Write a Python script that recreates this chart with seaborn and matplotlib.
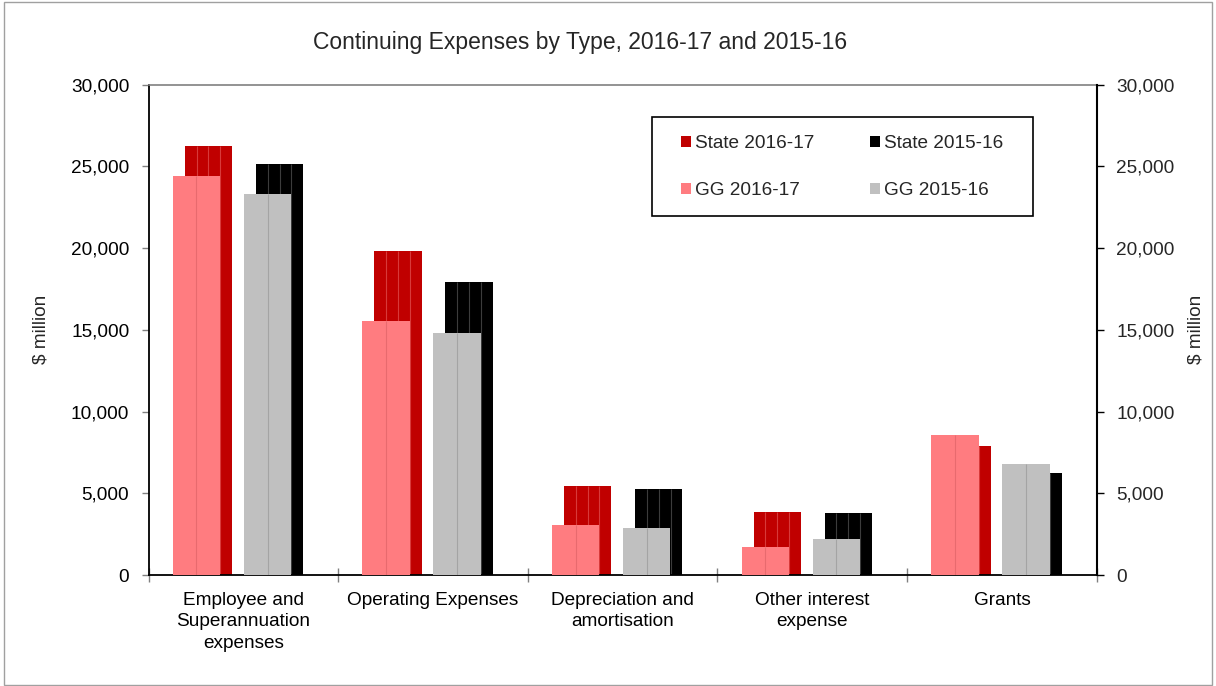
import numpy as np
import pandas as pd
import matplotlib
matplotlib.use('Agg')
import matplotlib.pyplot as plt
import seaborn as sns
from matplotlib.patches import Patch, Rectangle
from matplotlib.ticker import FuncFormatter, FixedLocator

categories = ['Employee and\nSuperannuation\nexpenses', 'Operating Expenses',
              'Depreciation and\namortisation', 'Other interest\nexpense', 'Grants']
state_1617 = [26250, 19800, 5450, 3860, 7880]
gg_1617 = [24430, 15570, 3060, 1710, 8550]
state_1516 = [25120, 17920, 5270, 3800, 6230]
gg_1516 = [23330, 14780, 2880, 2200, 6820]

sns.set_theme(style='white')
plt.rcParams['font.family'] = ['Liberation Sans', 'DejaVu Sans']
fs = 13.7

fig = plt.figure(figsize=(12.16, 6.86), dpi=100)
ax = fig.add_axes([148.7/1216, 1 - 575/686, 948/1216, (575 - 84.7)/686])

# (values, colour, offset, line colour, zorder) - state behind, GG in front
series = [
    ('State 2016-17', state_1617, '#C00000', -0.185, '#d83a3a', 2),
    ('GG 2016-17', gg_1617, '#FF7C80', -0.248, '#e86a6e', 4),
    ('State 2015-16', state_1516, '#000000', 0.190, '#3c3c3c', 2),
    ('GG 2015-16', gg_1516, '#C0C0C0', 0.127, '#a4a4a4', 4),
]
width = 0.25
for name, vals, col, off, lc, z in series:
    before = len(ax.patches)
    df = pd.DataFrame({'cat': categories, 'val': vals})
    sns.barplot(data=df, x='cat', y='val', order=categories, color=col,
                width=width, saturation=1, errorbar=None, edgecolor='none',
                linewidth=0, zorder=z, ax=ax)
    new = ax.patches[before:]
    for p in new:
        p.set_x(p.get_x() + off)
    # thin divisions inside the bars, as in the original
    for p in new:
        x0, w, h = p.get_x(), p.get_width(), p.get_height()
        if name.startswith('State'):
            xs = [x0 + w/4, x0 + w/2, x0 + 3*w/4]
        else:
            xs = [x0 + w/2]
        ax.vlines(xs, 0, h, colors=lc, lw=0.8, zorder=z + 0.5)

ax.set_xlim(-0.5, 4.5)
ax.set_ylim(0, 30000)
yt = np.arange(0, 30001, 5000)
ax.set_yticks(yt)
fmt = FuncFormatter(lambda v, _: f'{v:,.0f}')
ax.yaxis.set_major_formatter(fmt)
ax.tick_params(axis='y', left=True, direction='out', length=5, width=1,
               color='#808080', labelsize=fs, pad=9, labelcolor='black')
ax.tick_params(axis='x', bottom=False, labelsize=fs, pad=6, labelcolor='black')
for t in ax.get_xticklabels():
    t.set_linespacing(1.35)
ax.xaxis.set_minor_locator(FixedLocator(np.arange(-0.5, 4.6, 1)))
ax.tick_params(axis='x', which='minor', bottom=True, direction='inout',
               length=10, width=1, color='#808080')
ax.set_xlabel('')
ax.set_ylabel(r'\$ million', fontsize=fs, va='center')
ax.yaxis.set_label_coords((41 - 148.7)/948, 0.5)

for s in ['left', 'bottom']:
    ax.spines[s].set_color('black')
    ax.spines[s].set_linewidth(1.3)
ax.spines['top'].set_color('#808080')
ax.spines['top'].set_linewidth(1.2)
ax.spines['right'].set_visible(False)

ax2 = ax.twinx()
ax2.set_ylim(0, 30000)
ax2.set_yticks(yt)
ax2.yaxis.set_major_formatter(fmt)
ax2.tick_params(axis='y', right=True, direction='out', length=5, width=1,
                color='black', labelsize=fs, pad=9)
for s in ['left', 'top', 'bottom']:
    ax2.spines[s].set_visible(False)
ax2.spines['right'].set_color('black')
ax2.spines['right'].set_linewidth(1.5)
ax2.set_ylabel(r'\$ million', fontsize=fs, va='center', rotation=90)
ax2.yaxis.set_label_coords((1196 - 148.7)/948, 0.5)

# legend
handles = [Patch(facecolor=c, edgecolor='none', label=n)
           for n, v, c, o, l, z in series]
leg = fig.legend(handles=handles, ncol=2, frameon=False, fontsize=fs,
                 loc='upper left', bbox_to_anchor=(681/1216, 1 - 135/686),
                 borderpad=0, borderaxespad=0, handlelength=0.55,
                 handleheight=0.55, handletextpad=0.2, columnspacing=2.9,
                 labelspacing=1.6)
fig.patches.append(Rectangle((652/1216, 1 - 215.7/686), 381/1216, 99/686,
                             transform=fig.transFigure, fill=False,
                             edgecolor='black', lw=1.2))

fig.text(580/1216, 1 - 43/686, 'Continuing Expenses by Type, 2016-17 and 2015-16',
         ha='center', va='center', fontsize=16.5)
fig.patches.append(Rectangle((0.003, 0.002), 0.994, 0.995, transform=fig.transFigure,
                             fill=False, edgecolor='#a0a0a0', lw=1))

fig.savefig('out.png', dpi=100)
